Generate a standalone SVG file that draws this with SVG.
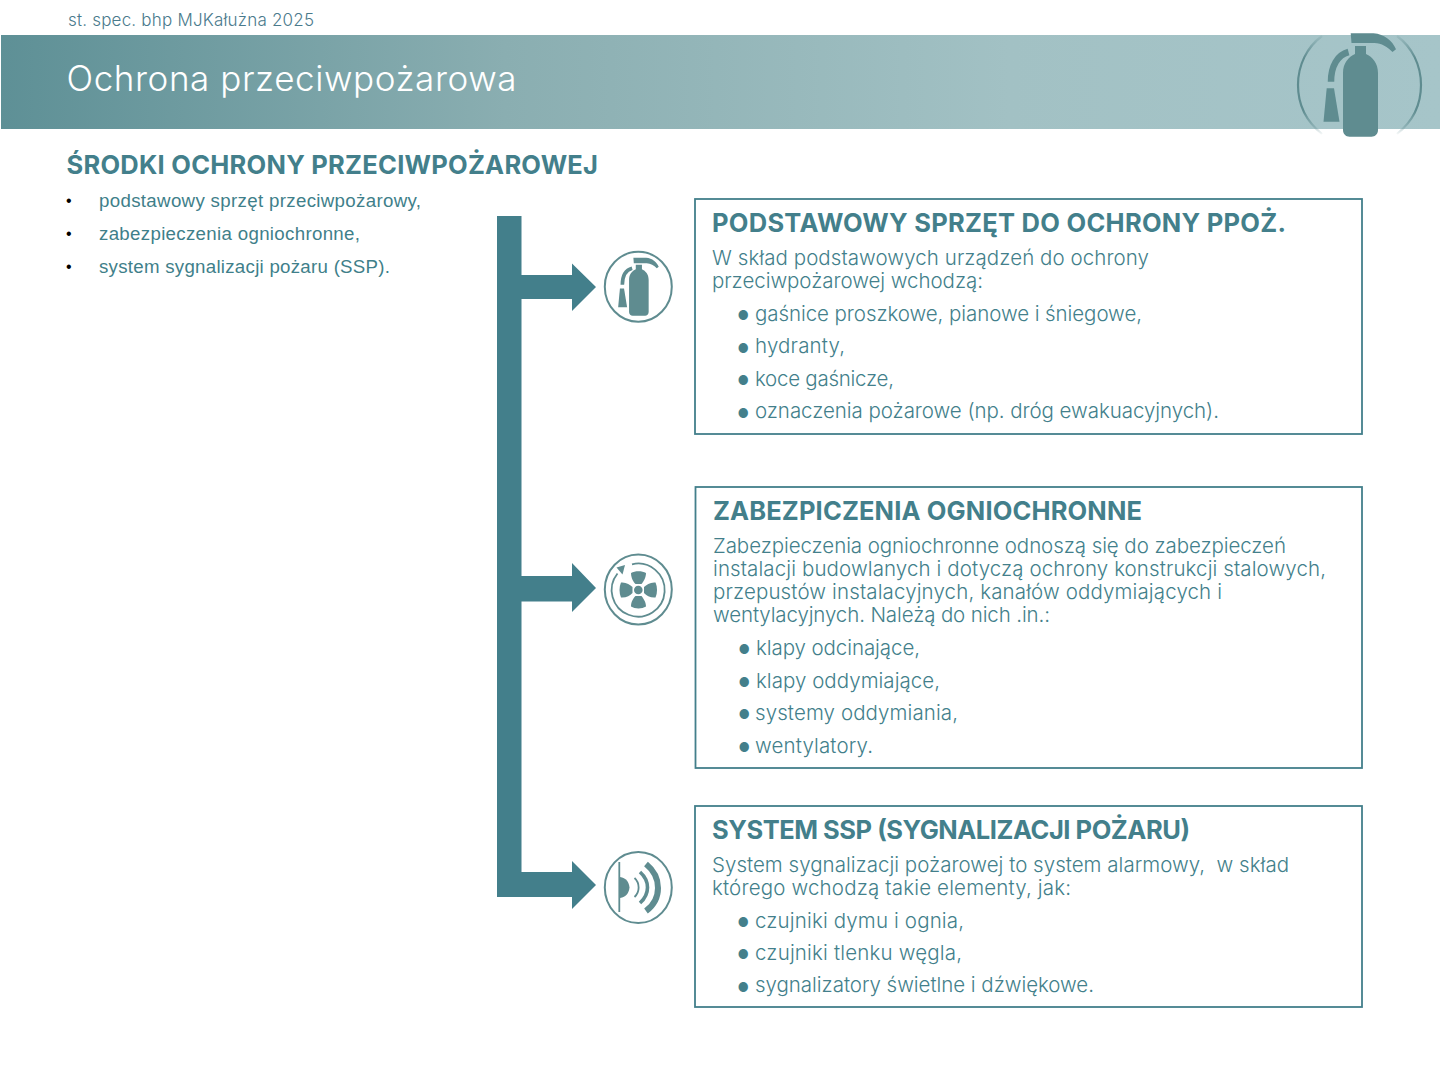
<svg xmlns="http://www.w3.org/2000/svg" width="1440" height="1080" viewBox="0 0 1440 1080">
<style>
text{font-family:"Inter","Open Sans","Liberation Sans",sans-serif;fill:#437f8b}
.t{font-size:25.500px;font-weight:700}
.b{font-size:20.500px;font-weight:300}
.d{font-size:12.500px;font-weight:400}
.l{font-family:"Liberation Sans",Arial,sans-serif;font-size:18.700px;fill:#3f7f8a}
.k{font-family:"Liberation Sans",Arial,sans-serif;font-size:16px;fill:#000}
.box{fill:#fff;stroke:#437f8b;stroke-width:1.800}
.ring{fill:#fff;stroke:#5f8c90;stroke-width:2}
.ic{fill:#5f8c90}
.icl{fill:none;stroke:#5f8c90}
.flow{fill:#437f8b}
</style>
<defs>
<linearGradient id="band" x1="0" x2="1" y1="0" y2="0">
<stop offset="0" stop-color="#5e9096"/><stop offset=".35" stop-color="#8aaeb1"/><stop offset=".7" stop-color="#a2c1c4"/><stop offset="1" stop-color="#a6c5c9"/>
</linearGradient>
<linearGradient id="fade" gradientUnits="userSpaceOnUse" x1="0" x2="0" y1="32" y2="136">
<stop offset="0" stop-color="#5f8c90" stop-opacity="0"/><stop offset=".25" stop-color="#5f8c90"/><stop offset=".75" stop-color="#5f8c90"/><stop offset="1" stop-color="#5f8c90" stop-opacity="0"/>
</linearGradient>
<g id="ext">
<path class="ic" d="M-4.500,-39H6.500V-31C13,-28 18.500,-22 18.500,-12V45C18.500,49 15.500,51.700 12,51.700H-10C-13.500,51.700 -16.500,49 -16.500,45V-12C-16.500,-22 -11,-28 -4.500,-31Z"/>
<path class="ic" d="M-8.800,-51.700H14C25,-51 33,-44 36.500,-35.700L33,-33C28,-38 22,-42 15,-42H-8Z"/>
<path class="icl" stroke-width="6.500" d="M-11,-33C-22,-30 -28.500,-19 -28.500,-3.300"/>
<path class="ic" d="M-32.800,3.300H-25.500L-20,36.700H-36Z"/>
</g>
</defs>

<g id="header">
<rect x="1" y="35" width="1439" height="94" fill="url(#band)"/>
<text x="68" y="26" font-size="17" font-weight="300" style="fill:#4a7a8c" textLength="246">st. spec. bhp MJKałużna 2025</text>
<text x="66.500" y="91" font-size="35" font-weight="300" style="fill:#fff" textLength="450">Ochrona przeciwpożarowa</text>
<path fill="none" stroke="url(#fade)" stroke-width="2.200" d="M1322,36C1307,47 1298,65 1298,85C1298,105 1307,122 1322,134"/>
<path fill="none" stroke="url(#fade)" stroke-width="2.200" d="M1397,36C1412,47 1421,65 1421,85C1421,105 1412,122 1397,134"/>
<use href="#ext" x="1359.500" y="85"/>
</g>

<g id="intro">
<text x="66.500" y="173.500" font-size="25.500" font-weight="700" textLength="531.500">ŚRODKI OCHRONY PRZECIWPOŻAROWEJ</text>
<text class="k" x="66" y="206">•</text><text class="l" x="99" y="207" textLength="322">podstawowy sprzęt przeciwpożarowy,</text>
<text class="k" x="66" y="239">•</text><text class="l" x="99" y="240" textLength="261">zabezpieczenia ogniochronne,</text>
<text class="k" x="66" y="272">•</text><text class="l" x="99" y="273" textLength="291">system sygnalizacji pożaru (SSP).</text>
</g>

<g id="connectors">
<path class="flow" d="M497,216H521.500V275H572V263.500L596,287L572,311V299H521.500V576H572V563L596,588L572,612V601.500H521.500V872H572V861L596,885L572,909V897H497Z"/>
</g>

<g id="icon-extinguisher">
<ellipse class="ring" cx="638.300" cy="286.800" rx="33.500" ry="35"/>
<use href="#ext" transform="translate(638.300,286.700) scale(.56)"/>
</g>

<g id="icon-fan">
<ellipse class="ring" cx="638.300" cy="589.500" rx="33.500" ry="35"/>
<path class="icl" stroke-width="1.800" d="M632,564.300A26.500,26.500 0 1 1 617.500,573.500"/>
<path class="ic" d="M625,565L616.500,567.500L622.500,574.500Z"/>
<circle class="ic" cx="638.300" cy="590" r="4.300"/>
<path class="ic" d="M631,573C635,570.500 642,570.500 646,573C646,578 643,582 641.500,584H635.500C633.500,582 631,578 631,573Z"/>
<path class="ic" d="M631,606.500C635,609 642,609 646,606.500C646,601.500 643,598 641.500,596H635.500C633.500,598 631,601.500 631,606.500Z"/>
<path class="ic" d="M621,582.500C619,587 619,593 621,597.500C626,598 630,595.500 632.500,593V587C630,584.500 626,582 621,582.500Z"/>
<path class="ic" d="M655.500,582.500C657.500,587 657.500,593 655.500,597.500C650.500,598 646.500,595.500 644,593V587C646.500,584.500 650.500,582 655.500,582.500Z"/>
</g>

<g id="icon-alarm">
<ellipse class="ring" cx="638.300" cy="887.500" rx="33.500" ry="35.500"/>
<path class="icl" stroke-width="1.800" d="M619.300,862V912"/>
<path class="ic" d="M620,877C626,878 629,882 629.500,887.500C629,893 626,897 620,898Z"/>
<path class="icl" stroke-width="1.800" d="M634.500,878C640,883 640,892 634.500,897"/>
<path class="icl" stroke-width="3.600" d="M640,872C650,881 650,894 640,903"/>
<path class="icl" stroke-width="6" d="M646,864C662,877 662,899 646,911"/>
</g>

<g id="box-basic">
<rect class="box" x="695" y="199" width="667" height="235"/>
<text class="t" x="712" y="231.500" textLength="574">PODSTAWOWY SPRZĘT DO OCHRONY PPOŻ.</text>
<text class="b" x="712" y="265" textLength="437">W skład podstawowych urządzeń do ochrony</text>
<text class="b" x="712" y="288" textLength="271">przeciwpożarowej wchodzą:</text>
<text class="d" x="737.500" y="320">●</text><text class="b" x="755" y="320.500" textLength="387">gaśnice proszkowe, pianowe i śniegowe,</text>
<text class="d" x="737.500" y="353">●</text><text class="b" x="755" y="353" textLength="90">hydranty,</text>
<text class="d" x="737.500" y="385">●</text><text class="b" x="755" y="385.500" textLength="139">koce gaśnicze,</text>
<text class="d" x="737.500" y="418">●</text><text class="b" x="755" y="418" textLength="464">oznaczenia pożarowe (np. dróg ewakuacyjnych).</text>
</g>

<g id="box-fireproof">
<rect class="box" x="695.500" y="487" width="666.500" height="281"/>
<text class="t" x="713" y="519.500" textLength="429">ZABEZPICZENIA OGNIOCHRONNE</text>
<text class="b" x="713" y="553" textLength="573">Zabezpieczenia ogniochronne odnoszą się do zabezpieczeń</text>
<text class="b" x="713" y="576" textLength="613">instalacji budowlanych i dotyczą ochrony konstrukcji stalowych,</text>
<text class="b" x="713" y="599" textLength="509">przepustów instalacyjnych, kanałów oddymiających i</text>
<text class="b" x="713" y="622" textLength="337">wentylacyjnych. Należą do nich .in.:</text>
<text class="d" x="738.500" y="654">●</text><text class="b" x="756" y="655" textLength="164">klapy odcinające,</text>
<text class="d" x="738.500" y="687">●</text><text class="b" x="756" y="687.500" textLength="184">klapy oddymiające,</text>
<text class="d" x="738.500" y="719">●</text><text class="b" x="755" y="720" textLength="203">systemy oddymiania,</text>
<text class="d" x="738.500" y="752">●</text><text class="b" x="755" y="752.500" textLength="118">wentylatory.</text>
</g>

<g id="box-ssp">
<rect class="box" x="695" y="806" width="667" height="201"/>
<text class="t" x="712" y="838.500" textLength="478">SYSTEM SSP (SYGNALIZACJI POŻARU)</text>
<text class="b" x="712" y="872" textLength="577" style="white-space:pre">System sygnalizacji pożarowej to system alarmowy,  w skład</text>
<text class="b" x="712" y="895" textLength="359">którego wchodzą takie elementy, jak:</text>
<text class="d" x="737.500" y="927">●</text><text class="b" x="755" y="927.500" textLength="209">czujniki dymu i ognia,</text>
<text class="d" x="737.500" y="959">●</text><text class="b" x="755" y="960" textLength="207">czujniki tlenku węgla,</text>
<text class="d" x="737.500" y="992">●</text><text class="b" x="755" y="992" textLength="339">sygnalizatory świetlne i dźwiękowe.</text>
</g>
</svg>
